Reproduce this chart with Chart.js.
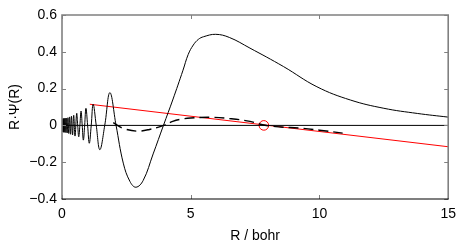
<!DOCTYPE html>
<html>
<head>
<meta charset="utf-8">
<script src="https://cdn.jsdelivr.net/npm/chart.js@4/dist/chart.umd.min.js"></script>
<style>
html,body{margin:0;padding:0;background:#fff;}
#wrap{width:463px;height:245px;position:relative;}
</style>
</head>
<body>
<div id="wrap"><canvas id="c" width="463" height="245"></canvas></div>
<script>
// ---- data ----
const waveX = [0,0.002,0.005,0.009,0.014,0.02,0.027,0.035,0.044,0.054,0.066,0.08,0.097,0.115,0.135,0.157,0.18,0.205,0.232,0.262,0.295,0.33,0.368,0.41,0.455,0.505,0.57,0.61,0.65,0.695,0.74,0.785,0.83,0.88,0.93,0.995,1.06,1.135,1.21,1.33,1.47,1.66,1.86,2.1,2.38,2.64,2.87,3.15,3.54,3.94,4.3,4.7,4.9,5.1,5.3,5.5,5.97,6.5,7.3,8.6,9.9,11.2,12.5,13.8,15];
const waveY = [0,-0.03,0.032,-0.033,0.034,-0.035,0.036,-0.036,0.037,-0.037,0.037,-0.037,0.038,-0.038,0.039,-0.039,0.04,-0.041,0.042,-0.044,0.046,-0.048,0.05,-0.052,0.055,-0.058,0.065,0,-0.062,0,0.078,0,-0.08,0,0.093,0,-0.097,0,0.115,0,-0.132,0,0.178,0,-0.205,-0.305,-0.336,-0.30,-0.155,0,0.138,0.30,0.385,0.437,0.468,0.482,0.495,0.478,0.42,0.32,0.21,0.138,0.093,0.065,0.045];
const dashX = [1.99,2.2,2.4,2.9,3.4,3.95,4.3,4.6,5.0,5.8,6.5,7.3,7.84,8.5,9.2,10.0,10.9];
const dashY = [0.015,-0.004,-0.018,-0.031,-0.022,0,0.022,0.033,0.04,0.044,0.037,0.022,0.002,-0.009,-0.014,-0.026,-0.042];
const redX = [1.08,15];
const redY = [0.115,-0.116];
const zeroX = [0,15];
const zeroY = [0,0];
const markX = [7.84];
const markY = [0];
const xTickValues = [0,5,10,15];
const xTickLabels = ['0','5','10','15'];
const yTickValues = [-0.4,-0.2,0,0.2,0.4,0.6];
const yTickLabels = ['\u22120.4','\u22120.2','0','0.2','0.4','0.6'];
const xTitle = 'R / bohr';
const yTitle = 'R\u00b7\u03a8(R)';

const pts = (xs, ys) => xs.map((x, i) => ({x: x, y: ys[i]}));

const frame = {
  id: 'frame',
  afterDatasetsDraw(chart) {
    const {ctx, chartArea: a, scales: {x, y}} = chart;
    ctx.save();
    ctx.lineWidth = 1;
    ctx.strokeStyle = '#808080';
    ctx.beginPath();
    yTickValues.forEach(v => {
      const py = Math.round(y.getPixelForValue(v)) + 0.5;
      ctx.moveTo(a.left, py); ctx.lineTo(a.left + 4, py);
      ctx.moveTo(a.right, py); ctx.lineTo(a.right - 4, py);
    });
    xTickValues.forEach(v => {
      const px = Math.round(x.getPixelForValue(v)) + 0.5;
      ctx.moveTo(px, a.bottom); ctx.lineTo(px, a.bottom - 4);
      ctx.moveTo(px, a.top); ctx.lineTo(px, a.top + 4);
    });
    ctx.stroke();
    ctx.lineWidth = 1.6;
    ctx.strokeStyle = '#808080';
    ctx.beginPath();
    ctx.moveTo(a.left, a.bottom);
    ctx.lineTo(a.left, a.top);
    ctx.lineTo(a.right, a.top);
    ctx.lineTo(a.right, a.bottom);
    ctx.stroke();
    ctx.lineWidth = 1.2;
    ctx.strokeStyle = '#000';
    ctx.beginPath();
    ctx.moveTo(a.left - 0.5, a.bottom);
    ctx.lineTo(a.right + 0.5, a.bottom);
    ctx.stroke();
    ctx.restore();
  }
};

const font = {family: '"Liberation Sans", Arial, sans-serif', size: 14};

new Chart(document.getElementById('c'), {
  type: 'scatter',
  data: {
    datasets: [
      {data: pts(zeroX, zeroY), showLine: true, borderColor: '#000', borderWidth: 1, pointRadius: 0},
      {data: pts(waveX, waveY), showLine: true, borderColor: '#000', borderWidth: 1, pointRadius: 0, tension: 0.4},
      {data: pts(dashX, dashY), showLine: true, borderColor: '#000', borderWidth: 1.4, borderDash: [10, 5], pointRadius: 0, tension: 0.4},
      {data: pts(redX, redY), showLine: true, borderColor: '#ff0000', borderWidth: 1, pointRadius: 0},
      {data: pts(markX, markY), showLine: false, pointRadius: 4.8, pointStyle: 'circle', borderColor: '#ff0000', borderWidth: 1, backgroundColor: 'rgba(0,0,0,0)'}
    ]
  },
  options: {
    responsive: false,
    animation: false,
    events: [],
    layout: {padding: {left: 0, top: 15, right: 14, bottom: 0}},
    plugins: {legend: {display: false}, tooltip: {enabled: false}},
    scales: {
      x: {
        type: 'linear', min: 0, max: 15,
        afterBuildTicks: s => { s.ticks = xTickValues.map(v => ({value: v})); },
        afterFit: s => { s.height = 46; },
        grid: {display: false, drawTicks: false},
        border: {display: false},
        ticks: {color: '#000', font: font, padding: 7, maxRotation: 0,
          callback: v => xTickLabels[xTickValues.indexOf(v)]},
        title: {display: true, text: xTitle, color: '#000', font: font, padding: {top: 0, bottom: 0}}
      },
      y: {
        type: 'linear', min: -0.4, max: 0.6,
        afterBuildTicks: s => { s.ticks = yTickValues.map(v => ({value: v})); },
        afterFit: s => { s.width = 62; },
        grid: {display: false, drawTicks: false},
        border: {display: false},
        ticks: {color: '#000', font: font, padding: 5,
          callback: v => { const i = yTickValues.findIndex(t => Math.abs(t - v) < 1e-9); return yTickLabels[i]; }},
        title: {display: true, text: yTitle, color: '#000', font: font, padding: {top: 7, bottom: 0}}
      }
    }
  },
  plugins: [frame]
});
</script>
</body>
</html>
